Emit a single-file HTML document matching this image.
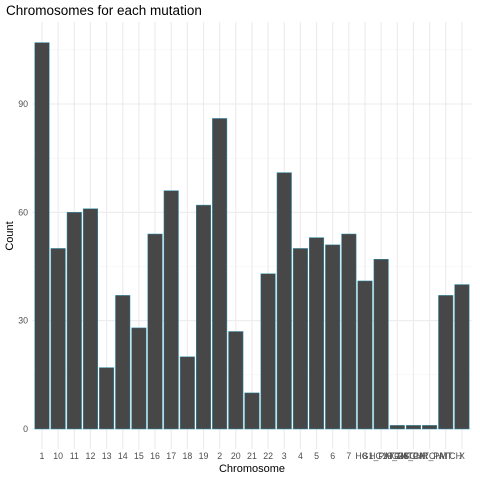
<!DOCTYPE html>
<html><head><meta charset="utf-8"><style>
html,body{margin:0;padding:0;background:#fff;}
svg{display:block;font-family:"Liberation Sans",sans-serif;}
</style></head><body>
<svg id="chart" width="480" height="480" xmlns="http://www.w3.org/2000/svg">
<text x="6" y="15" font-size="13.5" fill="#000">Chromosomes for each mutation</text>
<text x="252" y="472" font-size="11" fill="#000" text-anchor="middle">Chromosome</text>
<text transform="translate(13,236) rotate(-90)" font-size="11" fill="#000" text-anchor="middle">Count</text>
<g id="grid"></g><g id="bars"></g><g id="xt"></g><g id="yt"></g>
</svg>
<script>
const categories=["1","10","11","12","13","14","15","16","17","18","19","2","20","21","22","3","4","5","6","7","8","HG1_PATCH","HG19_PATCH","HG28_PATCH","HSCHR_PATCH","MT","X"];
const counts=[107,50,60,61,17,37,28,54,66,20,62,86,27,10,43,71,50,53,51,54,41,47,1,1,1,37,40];
const yTicks=[0,30,60,90];
const yMinor=[15,45,75,105];
const NS="http://www.w3.org/2000/svg";
const x0=42, step=16.15, y0=429, ppu=3.611;
const xs=i=>x0+i*step;
const ys=v=>y0-v*ppu;
const L=32.3,R=471.7,T=22,B=449;
function mk(t,a,p){const e=document.createElementNS(NS,t);for(const k in a)e.setAttribute(k,a[k]);p.appendChild(e);return e;}
const grid=document.getElementById('grid');
yMinor.forEach(v=>{const e=mk('line',{x1:L,x2:R,y1:ys(v),y2:ys(v),stroke:'#F3F3F3','stroke-width':0.6},grid);

});
yTicks.forEach(v=>{const e=mk('line',{x1:L,x2:R,y1:ys(v),y2:ys(v),stroke:'#EBEBEB','stroke-width':1.1},grid);

});
categories.forEach((c,i)=>{const e=mk('line',{x1:xs(i),x2:xs(i),y1:T,y2:B,stroke:'#EBEBEB','stroke-width':1.1},grid);

});
const bars=document.getElementById('bars');
const bw=step*0.9;
counts.forEach((v,i)=>{const r=mk('rect',{x:xs(i)-bw/2,y:ys(v),width:bw,height:v*ppu,fill:'#474747',stroke:'#2A93B0','stroke-width':0.5},bars);

});
const xt=document.getElementById('xt');
categories.forEach((c,i)=>{const t=mk('text',{x:xs(i),y:459,'font-size':8.8,fill:'#4D4D4D','text-anchor':'middle'},xt);t.textContent=c;

});
const yt=document.getElementById('yt');
yTicks.forEach(v=>{const t=mk('text',{x:28,y:ys(v)+3,'font-size':8.8,fill:'#4D4D4D','text-anchor':'end'},yt);t.textContent=v;

});
</script>
</body></html>
